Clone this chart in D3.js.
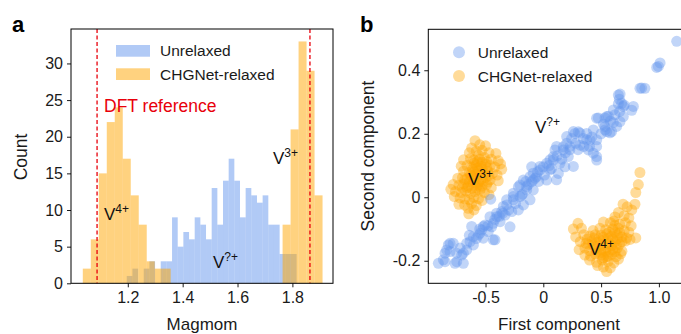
<!DOCTYPE html>
<html><head><meta charset="utf-8">
<script src="https://cdn.jsdelivr.net/npm/d3@7"></script>
<style>body{margin:0;background:#fff}svg{display:block;font-family:"Liberation Sans",Arial,sans-serif}</style>
</head><body><svg id="c" width="681" height="334"></svg>
<script>
// ---------- data ----------
const histBlueStart = 1.1962, histBlueWidth = 0.02064;
const histOrangeStart = 1.036, histOrangeWidth = 0.02913;
const blueCounts = [1,2,0,2,3,0,3,3,9,5,7,6,9,8,6,13,8,14,17,14,9,13,12,11,12,8,8,4,4,4];
const orangeCounts = [2,6,15,22,24,17,12,8,3,2,2,0,0,0,0,0,0,0,0,0,0,0,0,0,0,8,21,33,29,12];
const dftRef = [1.088, 1.864];
const histXTicks = [1.2, 1.4, 1.6, 1.8];
const histYTicks = [0, 5, 10, 15, 20, 25, 30];
const scatterXTicks = [-0.5, 0, 0.5, 1.0];
const scatterYTicks = [-0.2, 0, 0.2, 0.4];
const seriesNames = ["Unrelaxed", "CHGNet-relaxed"];

const unrelaxed = [
[-0.908,-0.208],[-0.850,-0.203],[-0.865,-0.197],[-0.836,-0.166],[-0.822,-0.150],[-0.807,-0.145],[-0.807,-0.171],[-0.850,-0.176],
[-0.779,-0.145],[-0.764,-0.208],[-0.749,-0.203],[-0.750,-0.176],[-0.706,-0.182],[-0.692,-0.208],[-0.692,-0.176],[-0.663,-0.166],
[-0.663,-0.145],[-0.634,-0.140],[-0.620,-0.092],[-0.606,-0.124],[-0.605,-0.150],[-0.562,-0.119],[-0.548,-0.113],[-0.533,-0.103],
[-0.519,-0.092],[-0.519,-0.129],[-0.504,-0.087],[-0.476,-0.108],[-0.461,-0.061],[-0.447,-0.093],[-0.433,-0.082],[-0.433,-0.134],
[-0.418,-0.134],[-0.404,-0.050],[-0.403,-0.061],[-0.374,-0.077],[-0.360,-0.045],[-0.346,-0.029],[-0.331,-0.056],[-0.317,-0.024],
[-0.317,-0.008],[-0.288,-0.093],[-0.273,-0.045],[-0.260,0.002],[-0.259,-0.008],[-0.259,0.013],[-0.216,-0.040],[-0.216,0.033],
[-0.202,0.002],[-0.202,0.039],[-0.187,0.007],[-0.173,0.054],[-0.172,-0.024],[-0.144,0.023],[-0.144,0.034],[-0.115,-0.008],
[-0.115,0.065],[-0.101,0.096],[-0.101,0.049],[-0.087,0.054],[-0.087,0.076],[-0.087,0.023],[-0.058,0.065],[-0.029,0.086],
[-0.029,0.097],[0.000,0.096],[0.029,0.107],[0.029,0.054],[0.058,0.086],[0.058,0.118],[0.087,0.117],[0.087,0.128],
[0.101,0.149],[0.115,0.160],[0.115,0.055],[0.130,0.075],[0.144,0.107],[0.173,0.159],[0.173,0.149],[0.187,0.096],
[0.202,0.170],[0.202,0.191],[0.216,0.128],[0.231,0.160],[0.245,0.185],[0.260,0.207],[0.260,0.097],[0.274,0.201],
[0.303,0.206],[0.317,0.164],[0.317,0.202],[0.346,0.185],[0.375,0.201],[0.375,0.181],[0.389,0.149],[0.404,0.180],
[0.433,0.212],[0.433,0.139],[0.461,0.249],[0.461,0.160],[0.461,0.128],[0.462,0.117],[0.462,0.181],[0.476,0.250],
[0.533,0.223],[0.534,0.212],[0.534,0.250],[0.548,0.207],[0.548,0.254],[0.562,0.255],[0.577,0.203],[0.591,0.207],
[0.606,0.275],[0.606,0.235],[0.634,0.223],[0.649,0.294],[0.649,0.322],[0.658,0.309],[0.663,0.238],[0.664,0.325],
[0.678,0.296],[0.692,0.254],[0.692,0.286],[0.765,0.274],[0.779,0.286],[0.836,0.343],[0.851,0.344],[0.879,0.343],
[0.981,0.409],[0.995,0.412],[1.010,0.423],[1.154,0.491],[-0.455,-0.006],
[-0.24,-0.02],[-0.18,0.01],[-0.13,0.04],[-0.07,0.06],[-0.04,0.05],[0.01,0.07],[0.05,0.10],[-0.15,0.05],[-0.05,0.08],
[0.07,0.09],[0.12,0.13],[0.16,0.12],[0.19,0.14],[0.23,0.15],[0.28,0.17],[0.30,0.15],[0.35,0.16],[0.40,0.16],[0.42,0.19],
[0.50,0.20],[-0.38,-0.06],[-0.42,-0.07],[-0.48,-0.09],[-0.55,-0.10],[-0.58,-0.13],[-0.64,-0.12],[-0.72,-0.16],[-0.30,-0.04],
[-0.35,-0.05],[0.52,0.23],[0.58,0.24],[0.62,0.26],[0.66,0.27],[0.70,0.29]
];

const relaxedV3 = [
[-0.591,0.178],[-0.55,0.165],[-0.50,0.162],[-0.62,0.155],
[-0.64,0.140],[-0.58,0.145],[-0.53,0.148],[-0.47,0.140],[-0.41,0.138],[-0.56,0.132],
[-0.69,0.118],[-0.63,0.122],[-0.60,0.118],[-0.55,0.120],[-0.51,0.125],[-0.45,0.120],[-0.39,0.115],[-0.37,0.105],
[-0.71,0.098],[-0.66,0.100],[-0.62,0.095],[-0.58,0.102],[-0.54,0.098],[-0.50,0.105],[-0.46,0.100],[-0.42,0.095],[-0.36,0.088],
[-0.69,0.082],[-0.64,0.078],[-0.60,0.080],[-0.56,0.085],[-0.52,0.078],[-0.48,0.082],[-0.44,0.075],[-0.40,0.070],
[-0.74,0.060],[-0.70,0.062],[-0.66,0.058],[-0.62,0.064],[-0.58,0.060],[-0.54,0.056],[-0.50,0.062],[-0.46,0.055],[-0.39,0.052],
[-0.78,0.040],[-0.73,0.038],[-0.69,0.042],[-0.65,0.035],[-0.61,0.045],[-0.57,0.038],[-0.53,0.035],[-0.49,0.040],[-0.45,0.030],
[-0.80,0.025],[-0.76,0.018],[-0.71,0.015],[-0.67,0.020],[-0.63,0.012],[-0.59,0.018],[-0.55,0.022],[-0.51,0.015],[-0.47,0.008],
[-0.77,0.002],[-0.72,-0.002],[-0.68,-0.005],[-0.64,-0.008],[-0.60,0.000],[-0.56,-0.004],[-0.53,-0.010],
[-0.73,-0.022],[-0.68,-0.025],[-0.62,-0.020],[-0.58,-0.026],[-0.65,-0.035],
[-0.645,-0.052],[-0.60,-0.040],
[-0.60,0.108],[-0.57,0.112],[-0.53,0.110],[-0.49,0.112],[-0.61,0.088],[-0.57,0.092],[-0.53,0.090],[-0.49,0.094],
[-0.63,0.070],[-0.59,0.072],[-0.55,0.070],[-0.51,0.072],[-0.47,0.068],[-0.64,0.050],[-0.60,0.052],[-0.56,0.048],
[-0.52,0.050],[-0.48,0.048],[-0.66,0.030],[-0.62,0.028],[-0.58,0.030],[-0.54,0.028],[-0.70,0.030],[-0.68,0.055]
];

const relaxedV4 = [
[0.836,0.078],[0.822,0.040],[0.800,0.015],[0.793,-0.022],[0.765,-0.040],[0.725,-0.030],[0.690,-0.022],[0.650,-0.048],
[0.700,-0.058],[0.740,-0.065],[0.620,-0.062],
[0.30,-0.082],[0.52,-0.078],[0.58,-0.080],[0.61,-0.075],[0.66,-0.085],[0.71,-0.080],[0.76,-0.090],
[0.26,-0.100],[0.33,-0.098],[0.43,-0.105],[0.49,-0.098],[0.54,-0.102],[0.60,-0.100],[0.65,-0.098],[0.70,-0.105],[0.74,-0.110],
[0.28,-0.125],[0.35,-0.118],[0.40,-0.122],[0.45,-0.118],[0.50,-0.120],[0.55,-0.115],[0.59,-0.122],[0.64,-0.118],[0.68,-0.125],[0.72,-0.128],[0.80,-0.128],
[0.32,-0.140],[0.37,-0.145],[0.42,-0.138],[0.47,-0.142],[0.52,-0.135],[0.57,-0.145],[0.62,-0.140],[0.66,-0.148],[0.71,-0.138],[0.75,-0.133],
[0.31,-0.165],[0.36,-0.160],[0.40,-0.168],[0.45,-0.162],[0.50,-0.165],[0.55,-0.158],[0.60,-0.165],[0.64,-0.160],[0.68,-0.170],
[0.36,-0.182],[0.41,-0.185],[0.45,-0.178],[0.50,-0.182],[0.54,-0.188],[0.59,-0.180],[0.63,-0.187],[0.67,-0.178],
[0.40,-0.198],[0.46,-0.205],[0.51,-0.198],[0.56,-0.202],[0.61,-0.207],[0.65,-0.195],
[0.52,-0.220],[0.548,-0.234],[0.58,-0.222],[0.47,-0.215],
[0.44,-0.128],[0.48,-0.130],[0.52,-0.126],[0.56,-0.130],[0.60,-0.132],[0.43,-0.150],[0.47,-0.152],[0.51,-0.150],
[0.55,-0.148],[0.59,-0.152],[0.63,-0.150],[0.46,-0.172],[0.50,-0.174],[0.54,-0.170],[0.58,-0.172],[0.62,-0.172],
[0.52,-0.190],[0.56,-0.186],[0.57,-0.110],[0.62,-0.110],[0.66,-0.112],[0.64,-0.130],[0.68,-0.140],[0.62,-0.088],
[0.39,-0.148],[0.38,-0.132]
];

// ---------- drawing ----------
const svg = d3.select("#c");
const BLUE = "cornflowerblue", ORANGE = "orange";
const tickFont = 16;

function styleAxis(g){
  g.selectAll(".domain").remove();
  g.selectAll(".tick line").attr("stroke","#000").attr("stroke-width",0.9);
  g.selectAll(".tick text").attr("font-size",tickFont).attr("fill","#1a1a1a")
   .attr("font-family","'Liberation Sans',Arial,sans-serif");
}
const fmtSigned = d => (d===0 ? "0" : d3.format(".1f")(d).replace("\u2212","-"));

// ===== Panel a: histogram =====
const A = {l:71, r:333, t:29, b:283.3};
const xa = d3.scaleLinear().domain([0.993, 1.948]).range([A.l, A.r]);
const ya = d3.scaleLinear().domain([0, 34.7]).range([A.b, A.t]);

const blueBins = blueCounts.map((c,i)=>({x0:histBlueStart+i*histBlueWidth, x1:histBlueStart+(i+1)*histBlueWidth, c}));
const orangeBins = orangeCounts.map((c,i)=>({x0:histOrangeStart+i*histOrangeWidth, x1:histOrangeStart+(i+1)*histOrangeWidth, c}));

const ga = svg.append("g");
ga.selectAll("rect.b").data(blueBins.filter(d=>d.c>0)).join("rect")
  .attr("x",d=>xa(d.x0)).attr("width",d=>xa(d.x1)-xa(d.x0))
  .attr("y",d=>ya(d.c)).attr("height",d=>ya(0)-ya(d.c))
  .attr("fill",BLUE).attr("fill-opacity",0.5);
ga.selectAll("rect.o").data(orangeBins.filter(d=>d.c>0)).join("rect")
  .attr("x",d=>xa(d.x0)).attr("width",d=>xa(d.x1)-xa(d.x0))
  .attr("y",d=>ya(d.c)).attr("height",d=>ya(0)-ya(d.c))
  .attr("fill",ORANGE).attr("fill-opacity",0.5);

ga.selectAll("line.dft").data(dftRef).join("line")
  .attr("x1",d=>xa(d)).attr("x2",d=>xa(d)).attr("y1",A.t).attr("y2",A.b)
  .attr("stroke","#e8000b").attr("stroke-width",1.3).attr("stroke-dasharray","4,2.5");

ga.append("rect").attr("x",A.l).attr("y",A.t).attr("width",A.r-A.l).attr("height",A.b-A.t)
  .attr("fill","none").attr("stroke","#000").attr("stroke-width",1);

svg.append("g").attr("transform",`translate(0,${A.b})`)
  .call(d3.axisBottom(xa).tickValues(histXTicks).tickSize(4).tickPadding(4).tickFormat(d3.format(".1f"))).call(styleAxis);
svg.append("g").attr("transform",`translate(${A.l},0)`)
  .call(d3.axisLeft(ya).tickValues(histYTicks).tickSize(4).tickPadding(4).tickFormat(d3.format("d"))).call(styleAxis);

// legend a
const legA = [{n:seriesNames[0],c:BLUE,y:45},{n:seriesNames[1],c:ORANGE,y:68.3}];
legA.forEach(d=>{
  svg.append("rect").attr("x",116).attr("y",d.y).attr("width",34).attr("height",11.7).attr("fill",d.c).attr("fill-opacity",0.5);
  svg.append("text").attr("x",160).attr("y",d.y+11.4).attr("font-size",15.5).attr("fill","#1a1a1a").text(d.n);
});
svg.append("text").attr("x",104).attr("y",112).attr("font-size",17.5).attr("fill","#e8000b").text("DFT reference");

function vlabel(x,y,sup){
  const t = svg.append("text").attr("x",x).attr("y",y).attr("font-size",17).attr("fill","#111");
  t.append("tspan").text("V");
  t.append("tspan").attr("dy",-7).attr("font-size",12).text(sup);
}
vlabel(104,220,"4+");
vlabel(213,268,"?+");
vlabel(273,164,"3+");

svg.append("text").attr("transform","translate(27,157) rotate(-90)").attr("text-anchor","middle")
  .attr("font-size",17.5).attr("fill","#1a1a1a").text("Count");
svg.append("text").attr("x",202).attr("y",329.5).attr("text-anchor","middle")
  .attr("font-size",17).attr("fill","#1a1a1a").text("Magmom");
svg.append("text").attr("x",12).attr("y",31.5).attr("font-size",22).attr("font-weight","bold").text("a");

// ===== Panel b: scatter =====
const B = {l:428.3, r:689.3, t:29.3, b:283.3};
const xb = d3.scaleLinear().domain([-0.995, 1.263]).range([B.l, B.r]);
const yb = d3.scaleLinear().domain([-0.271, 0.529]).range([B.b, B.t]);

const gb = svg.append("g");
const relaxed = relaxedV3.concat(relaxedV4);
gb.selectAll("circle.o").data(relaxed).join("circle")
  .attr("cx",d=>xb(d[0])).attr("cy",d=>yb(d[1])).attr("r",5.5)
  .attr("fill",ORANGE).attr("fill-opacity",0.4);
gb.selectAll("circle.b").data(unrelaxed).join("circle")
  .attr("cx",d=>xb(d[0])).attr("cy",d=>yb(d[1])).attr("r",5.5)
  .attr("fill",BLUE).attr("fill-opacity",0.4);

gb.append("rect").attr("x",B.l).attr("y",B.t).attr("width",B.r-B.l).attr("height",B.b-B.t)
  .attr("fill","none").attr("stroke","#000").attr("stroke-width",1);

svg.append("g").attr("transform",`translate(0,${B.b})`)
  .call(d3.axisBottom(xb).tickValues(scatterXTicks).tickSize(4).tickPadding(4).tickFormat(fmtSigned)).call(styleAxis);
svg.append("g").attr("transform",`translate(${B.l},0)`)
  .call(d3.axisLeft(yb).tickValues(scatterYTicks).tickSize(4).tickPadding(4).tickFormat(fmtSigned)).call(styleAxis);

const legB = [{n:seriesNames[0],c:BLUE,y:52.3},{n:seriesNames[1],c:ORANGE,y:76}];
legB.forEach(d=>{
  svg.append("circle").attr("cx",459).attr("cy",d.y).attr("r",6).attr("fill",d.c).attr("fill-opacity",0.4);
  svg.append("text").attr("x",477.7).attr("y",d.y+5.6).attr("font-size",15.5).attr("fill","#1a1a1a").text(d.n);
});
vlabel(468,185,"3+");
vlabel(535,133,"?+");
vlabel(589,255,"4+");

svg.append("text").attr("transform","translate(374,156) rotate(-90)").attr("text-anchor","middle")
  .attr("font-size",17.5).attr("fill","#1a1a1a").text("Second component");
svg.append("text").attr("x",559).attr("y",329.5).attr("text-anchor","middle")
  .attr("font-size",17).attr("fill","#1a1a1a").text("First component");
svg.append("text").attr("x",360).attr("y",31.5).attr("font-size",22).attr("font-weight","bold").text("b");
</script></body></html>
